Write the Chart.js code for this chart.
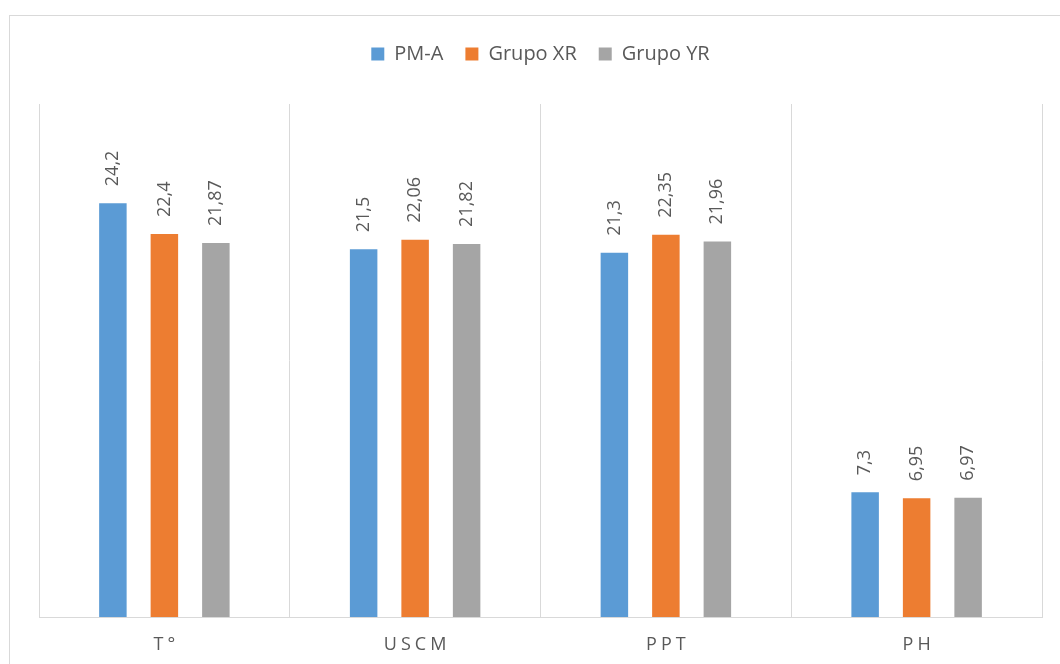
<!DOCTYPE html>
<html>
<head>
<meta charset="utf-8">
<script src="https://cdn.jsdelivr.net/npm/chart.js@4/dist/chart.umd.min.js"></script>
<style>
  html, body { margin: 0; padding: 0; background: #ffffff; }
  canvas { display: block; }
</style>
</head>
<body>
<canvas id="chart" width="1060" height="664"></canvas>
<script>
// Parameters measured per group
const categories = ['T°', 'USCM', 'PPT', 'PH'];
const seriesNames = ['PM-A', 'Grupo XR', 'Grupo YR'];
const pmA = [24.2, 21.5, 21.3, 7.3];
const grupoXR = [22.4, 22.06, 22.35, 6.95];
const grupoYR = [21.87, 21.82, 21.96, 6.97];
const yTicks = [0, 30];

const seriesColors = ['#5B9BD5', '#ED7D31', '#A5A5A5'];
const textColor = '#595959';
const lineColor = '#D9D9D9';
const fontFamily = '"Open Sans", "Noto Sans", sans-serif';

// Values are shown with a decimal comma
const fmt = v => String(v).replace('.', ',');

// Outer frame of the chart object
const framePlugin = {
  id: 'frame',
  beforeDraw(chart) {
    const ctx = chart.ctx;
    ctx.save();
    ctx.fillStyle = '#ffffff';
    ctx.fillRect(0, 0, chart.width, chart.height);
    ctx.strokeStyle = lineColor;
    ctx.lineWidth = 1;
    ctx.strokeRect(9.5, 15.5, chart.width + 20, chart.height + 20);
    ctx.restore();
  }
};

// Extra space under the legend
const legendSpacing = {
  id: 'legendSpacing',
  beforeInit(chart) {
    const lg = chart.legend;
    if (!lg) return;
    const fit = lg.fit.bind(lg);
    lg.fit = function () { fit(); this.height += 30; };
  }
};

// Rotated value labels above each bar
const barValues = {
  id: 'barValues',
  afterDatasetsDraw(chart) {
    const ctx = chart.ctx;
    ctx.save();
    ctx.fillStyle = textColor;
    ctx.font = '18px ' + fontFamily;
    ctx.textAlign = 'left';
    ctx.textBaseline = 'middle';
    chart.data.datasets.forEach((ds, i) => {
      const meta = chart.getDatasetMeta(i);
      meta.data.forEach((bar, j) => {
        ctx.save();
        ctx.translate(bar.x, bar.y - 17);
        ctx.rotate(-Math.PI / 2);
        ctx.fillText(fmt(ds.data[j]), 0, 0);
        ctx.restore();
      });
    });
    ctx.restore();
  }
};

// Letter-spaced category names under the axis
const categoryLabels = {
  id: 'categoryLabels',
  afterDraw(chart) {
    const ctx = chart.ctx;
    const xs = chart.scales.x;
    const spacing = 4;
    ctx.save();
    ctx.fillStyle = textColor;
    ctx.font = '18px ' + fontFamily;
    ctx.textAlign = 'center';
    ctx.textBaseline = 'middle';
    if ('letterSpacing' in ctx) ctx.letterSpacing = spacing + 'px';
    chart.data.labels.forEach((lab, i) => {
      ctx.fillText(lab, xs.getPixelForValue(i) + spacing / 2, chart.chartArea.bottom + 28);
    });
    ctx.restore();
  }
};

const mkSet = (label, data, color) => ({
  label,
  data,
  backgroundColor: color,
  borderWidth: 0,
  categoryPercentage: 0.616,
  barPercentage: 0.534
});

new Chart(document.getElementById('chart'), {
  type: 'bar',
  data: {
    labels: categories,
    datasets: [
      mkSet(seriesNames[0], pmA, seriesColors[0]),
      mkSet(seriesNames[1], grupoXR, seriesColors[1]),
      mkSet(seriesNames[2], grupoYR, seriesColors[2])
    ]
  },
  options: {
    responsive: false,
    animation: false,
    devicePixelRatio: 1,
    layout: { padding: { top: 22, left: 39, right: 18, bottom: 47 } },
    plugins: {
      tooltip: { enabled: false },
      legend: {
        position: 'top',
        labels: {
          color: textColor,
          font: { family: fontFamily, size: 20 },
          boxWidth: 13,
          boxHeight: 13,
          padding: 22
        }
      }
    },
    scales: {
      x: {
        display: true,
        offset: true,
        grid: { display: true, offset: true, color: lineColor, lineWidth: 1, drawTicks: false },
        border: { display: true, color: lineColor, width: 1 },
        ticks: { display: false }
      },
      y: {
        display: false,
        min: yTicks[0],
        max: yTicks[1]
      }
    }
  },
  plugins: [framePlugin, legendSpacing, barValues, categoryLabels]
});
</script>
</body>
</html>
